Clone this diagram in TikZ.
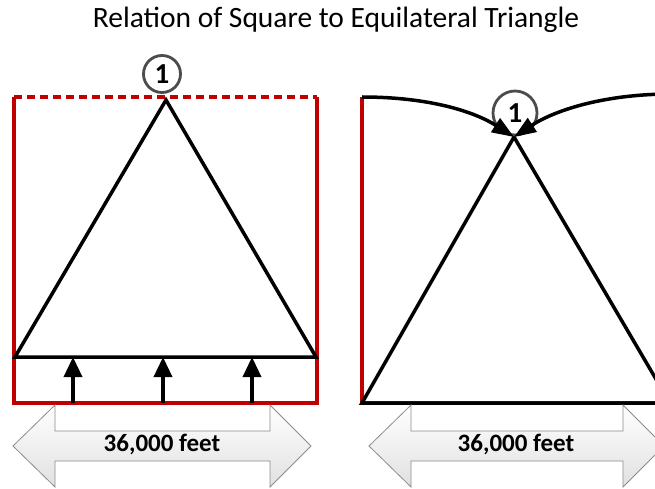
\documentclass[tikz,border=0pt]{standalone}
\usepackage{fontspec}
\setmainfont{Carlito}
\usetikzlibrary{arrows.meta}
\definecolor{sqred}{RGB}{192,0,0}

\begin{document}
\begin{tikzpicture}[
  x=1pt,y=-1pt,
  sq/.style={draw=sqred,line width=3.5pt},
  tri/.style={draw=black,line width=3.5pt,line join=miter},
  push/.style={line width=3.5pt,-{Triangle[length=20pt,width=18pt]}},
  bendarr/.style={line width=3.5pt,-{Triangle[length=22pt,width=16pt]}},
  num/.style={circle,draw=black!70,line width=2.8pt,fill=white,inner sep=0pt,font=\bfseries\fontsize{29}{29}\selectfont},
  dim/.style={draw=black!45,line width=0.8pt,top color=white,bottom color=black!12},
  dimtext/.style={font=\bfseries\fontsize{25}{25}\selectfont}
]
\useasboundingbox (0,0) rectangle (655,489);

\node[font=\fontsize{29.5}{29.5}\selectfont] (title) at (336,20) {Relation of Square to Equilateral Triangle};

% left: square around the triangle
\coordinate (sqTL) at (14,97);
\coordinate (sqTR) at (317,97);
\coordinate (sqBL) at (14,403);
\coordinate (sqBR) at (317,403);
\draw[sq] (sqTL) -- (sqBL) -- (sqBR) -- (sqTR);
\draw[sq,dash pattern=on 8pt off 5pt] (sqTL) -- (sqTR);

\coordinate (apexL) at (166,100);
\coordinate (baseL1) at (15,357);
\coordinate (baseL2) at (316,357);
\draw[tri] (apexL) -- (baseL1) -- (baseL2) -- cycle;

\foreach \x in {73,163,252}
  \draw[push] (\x,403) -- (\x,357);

\node[num,minimum size=37pt] (oneL) at (162,74) {1};

% right: triangle standing on the side
\coordinate (edgeT) at (362,97);
\coordinate (edgeB) at (362,403);
\coordinate (apexR) at (514,137);
\coordinate (baseR) at (670,403);
\coordinate (farT) at (672,94);
\draw[sq] (edgeT) -- (edgeB) -- (baseR);
\draw[tri] (apexR) -- (edgeB) -- (baseR) -- cycle;

\node[num,minimum size=44pt] (oneR) at (515,113) {1};
\draw[bendarr] (edgeT) .. controls (430,97) and (475,112) .. (apexR);
\draw[bendarr] (farT) .. controls (600,94) and (552,112) .. (apexR);

% dimension arrows
\shade[dim] (13,446) -- (55,405) -- (55,431) -- (270,431) -- (270,405) -- (311,446)
  -- (270,487) -- (270,461) -- (55,461) -- (55,487) -- cycle;
\node[dimtext] (dimL) at (162,445) {36,000 feet};

\shade[dim] (369,446) -- (411,405) -- (411,431) -- (623,431) -- (623,405) -- (664,446)
  -- (623,487) -- (623,461) -- (411,461) -- (411,487) -- cycle;
\node[dimtext] (dimR) at (516,445) {36,000 feet};
\end{tikzpicture}
\end{document}
